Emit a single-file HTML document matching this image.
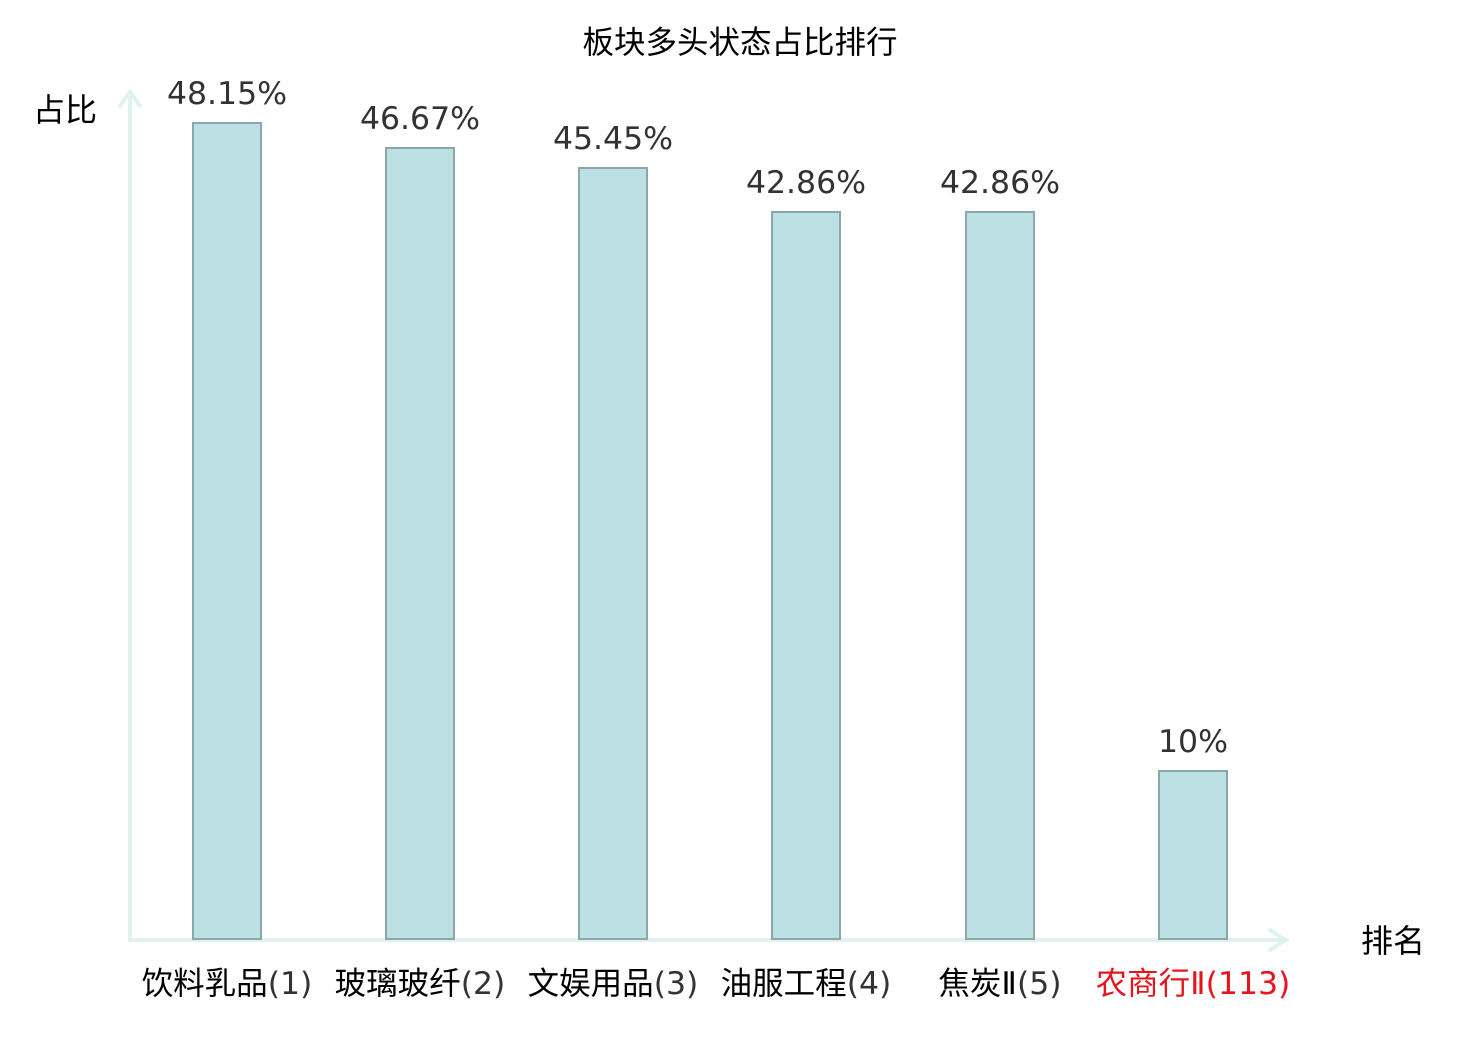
<!DOCTYPE html>
<html><head><meta charset="utf-8"><style>
html,body{margin:0;padding:0;background:#fff;}
svg{display:block;}
text{font-family:"DejaVu Sans","Noto Sans CJK SC",sans-serif;}
</style></head><body>
<svg width="1480" height="1040" viewBox="0 0 1480 1040" xmlns="http://www.w3.org/2000/svg">
<text x="740" y="53" font-size="31.5" text-anchor="middle" fill="#000">板块多头状态占比排行</text>
<text x="33" y="121" font-size="32" fill="#000">占比</text>
<text x="1361" y="952" font-size="32" fill="#000">排名</text>
<g stroke="#dff2ef" stroke-width="4" fill="none" stroke-linecap="round">
<line x1="130" y1="940" x2="130" y2="92"/>
<polyline points="120,106 130,92 140,106"/>
<line x1="130" y1="940" x2="1286" y2="940"/>
<polyline points="1270,930 1286,940 1270,950"/>
</g>
<g fill="#bce0e3" stroke="#8aa8a8" stroke-width="2">
<rect x="193" y="123" width="68" height="816"/>
<rect x="386" y="148" width="68" height="791"/>
<rect x="579" y="168" width="68" height="771"/>
<rect x="772" y="212" width="68" height="727"/>
<rect x="966" y="212" width="68" height="727"/>
<rect x="1159" y="771" width="68" height="168"/>
</g>
<g font-size="31.5" fill="#333" text-anchor="middle">
<text x="227" y="104">48.15%</text>
<text x="420" y="129">46.67%</text>
<text x="613" y="149">45.45%</text>
<text x="806" y="193">42.86%</text>
<text x="1000" y="193">42.86%</text>
<text x="1193" y="752">10%</text>
</g>
<g font-size="31.5" fill="#000" text-anchor="middle">
<text x="227" y="994">饮料乳品<tspan fill="#333">(1)</tspan></text>
<text x="420" y="994">玻璃玻纤<tspan fill="#333">(2)</tspan></text>
<text x="613" y="994">文娱用品<tspan fill="#333">(3)</tspan></text>
<text x="806" y="994">油服工程<tspan fill="#333">(4)</tspan></text>
<text x="1000" y="994">焦炭Ⅱ<tspan fill="#333">(5)</tspan></text>
<text x="1193" y="994" fill="#e8141c">农商行Ⅱ(113)</text>
</g>
</svg>
</body></html>
